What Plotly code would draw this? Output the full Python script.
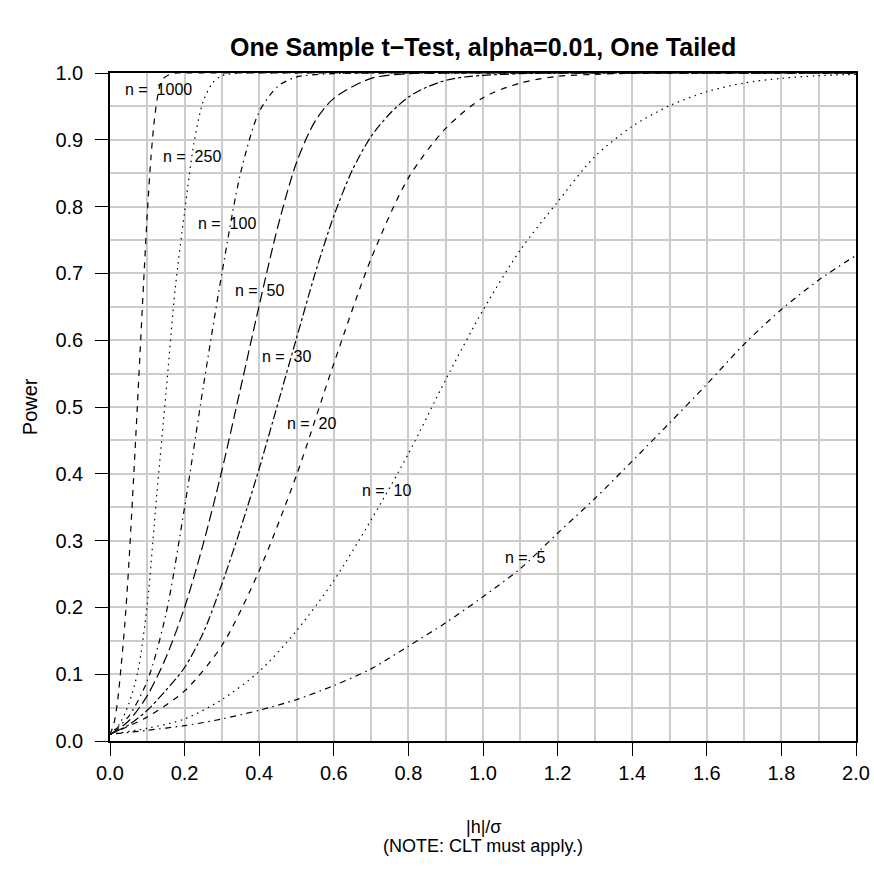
import plotly.graph_objects as go

# ---- data ----
sample_sizes = [1000, 250, 100, 50, 30, 20, 10, 5]

x_n1000 = [0, 0.01, 0.02, 0.03, 0.04, 0.05, 0.06, 0.07, 0.08, 0.09, 0.10, 0.11, 0.12,
           0.13, 0.14, 0.16, 0.18, 0.2, 0.4, 0.6, 0.8, 1.0, 1.2, 1.4, 1.6, 1.8, 2.0]
y_n1000 = [0.010, 0.025, 0.058, 0.113, 0.177, 0.260, 0.360, 0.465, 0.575, 0.685, 0.790,
           0.875, 0.935, 0.972, 0.990, 0.998, 1.0, 1.0, 1.0, 1.0, 1.0, 1.0, 1.0, 1.0, 1.0, 1.0, 1.0]

x_n250 = [0, 0.025, 0.05, 0.075, 0.1, 0.125, 0.15, 0.175, 0.2, 0.225, 0.25, 0.275, 0.3,
          0.35, 0.4, 0.6, 0.8, 1.0, 1.2, 1.4, 1.6, 1.8, 2.0]
y_n250 = [0.010, 0.025, 0.055, 0.105, 0.205, 0.367, 0.520, 0.678, 0.792, 0.895, 0.958,
          0.985, 0.996, 1.0, 1.0, 1.0, 1.0, 1.0, 1.0, 1.0, 1.0, 1.0, 1.0]

x_n100 = [0, 0.05, 0.1, 0.15, 0.2, 0.25, 0.3, 0.35, 0.4, 0.45, 0.5, 0.6, 0.7,
          0.8, 1.0, 1.2, 1.4, 1.6, 1.8, 2.0]
y_n100 = [0.010, 0.037, 0.090, 0.190, 0.350, 0.530, 0.700, 0.850, 0.942, 0.980, 0.994,
          0.999, 1.0, 1.0, 1.0, 1.0, 1.0, 1.0, 1.0, 1.0]

x_n50 = [0, 0.05, 0.1, 0.15, 0.2, 0.25, 0.3, 0.35, 0.4, 0.45, 0.5, 0.55, 0.6, 0.7,
         0.8, 0.9, 1.0, 1.2, 1.4, 1.6, 1.8, 2.0]
y_n50 = [0.010, 0.030, 0.068, 0.125, 0.200, 0.295, 0.405, 0.528, 0.652, 0.770, 0.866,
         0.928, 0.962, 0.992, 0.999, 1.0, 1.0, 1.0, 1.0, 1.0, 1.0, 1.0]

x_n30 = [0, 0.05, 0.1, 0.15, 0.2, 0.25, 0.3, 0.35, 0.4, 0.45, 0.5, 0.55, 0.6, 0.65,
         0.7, 0.75, 0.8, 0.85, 0.9, 0.95, 1.0, 1.1, 1.2, 1.4, 1.6, 1.8, 2.0]
y_n30 = [0.010, 0.024, 0.046, 0.076, 0.110, 0.162, 0.235, 0.318, 0.408, 0.505, 0.603,
         0.700, 0.786, 0.855, 0.905, 0.939, 0.964, 0.979, 0.989, 0.994, 0.9965, 0.999,
         1.0, 1.0, 1.0, 1.0, 1.0]

x_n20 = [0, 0.1, 0.2, 0.3, 0.4, 0.5, 0.6, 0.7, 0.8, 0.9, 1.0, 1.1, 1.2, 1.3, 1.4,
         1.5, 1.6, 1.7, 1.8, 1.9, 2.0]
y_n20 = [0.010, 0.036, 0.075, 0.143, 0.255, 0.398, 0.565, 0.722, 0.843, 0.917, 0.963,
         0.985, 0.995, 0.998, 0.9995, 1.0, 1.0, 1.0, 1.0, 1.0, 1.0]

x_n10 = [0, 0.1, 0.2, 0.3, 0.4, 0.5, 0.6, 0.7, 0.8, 0.9, 1.0, 1.1, 1.2, 1.3, 1.4,
         1.5, 1.6, 1.7, 1.8, 1.9, 2.0]
y_n10 = [0.010, 0.019, 0.033, 0.062, 0.104, 0.165, 0.240, 0.331, 0.430, 0.541, 0.645,
         0.735, 0.807, 0.875, 0.920, 0.951, 0.972, 0.985, 0.992, 0.996, 0.998]

x_n5 = [0, 0.1, 0.2, 0.3, 0.4, 0.5, 0.6, 0.7, 0.8, 0.9, 1.0, 1.1, 1.2, 1.3, 1.4,
        1.5, 1.6, 1.7, 1.8, 1.9, 2.0]
y_n5 = [0.010, 0.016, 0.023, 0.033, 0.046, 0.062, 0.083, 0.108, 0.142, 0.177, 0.216,
        0.258, 0.311, 0.363, 0.419, 0.476, 0.534, 0.594, 0.646, 0.690, 0.727]

label_x = [0.131, 0.2185, 0.314, 0.400, 0.472, 0.541, 0.740, 1.113]
label_y = [0.975, 0.875, 0.775, 0.675, 0.575, 0.475, 0.375, 0.275]

x_ticks = [0.0, 0.2, 0.4, 0.6, 0.8, 1.0, 1.2, 1.4, 1.6, 1.8, 2.0]
y_ticks = [0.0, 0.1, 0.2, 0.3, 0.4, 0.5, 0.6, 0.7, 0.8, 0.9, 1.0]

series_x = [x_n1000, x_n250, x_n100, x_n50, x_n30, x_n20, x_n10, x_n5]
series_y = [y_n1000, y_n250, y_n100, y_n50, y_n30, y_n20, y_n10, y_n5]

# R line types 2..6 cycling
dashes = {
    "dashed": "6px,6px",
    "dotted": "1.5px,4.5px",
    "dotdash": "1.5px,4.5px,6px,4.5px",
    "longdash": "10.5px,4.5px",
    "twodash": "3px,3px,9px,3px",
}
styles = ["dashed", "dotted", "dotdash", "longdash", "twodash", "dashed", "dotted", "dotdash"]

FONT = "Liberation Sans, Arial, Helvetica, sans-serif"

fig = go.Figure()
for n, xs, ys, st in zip(sample_sizes, series_x, series_y, styles):
    fig.add_trace(go.Scatter(
        x=xs, y=ys, mode="lines", name=f"n = {n}",
        line=dict(color="black", width=1.2, dash=dashes[st], shape="spline", smoothing=0.8),
        showlegend=False,
    ))

for n, lx, ly in zip(sample_sizes, label_x, label_y):
    fig.add_annotation(x=lx, y=ly, xref="x", yref="y", text=f"n = \u00a0{n}",
                       showarrow=False, font=dict(family=FONT, size=16, color="black"),
                       xanchor="center", yanchor="middle")

fig.add_annotation(x=0.5, y=1.0385, xref="paper", yref="paper",
                   text="<b>One Sample t\u2212Test, alpha=0.01, One Tailed</b>",
                   showarrow=False, font=dict(family=FONT, size=25, color="black"),
                   xanchor="center", yanchor="middle")
fig.add_annotation(x=0.5, y=-0.129, xref="paper", yref="paper", text="|h|/\u03c3",
                   showarrow=False, font=dict(family=FONT, size=18, color="black"),
                   xanchor="center", yanchor="middle")
fig.add_annotation(x=0.5, y=-0.157, xref="paper", yref="paper", text="(NOTE: CLT must apply.)",
                   showarrow=False, font=dict(family=FONT, size=18, color="black"),
                   xanchor="center", yanchor="middle")
fig.add_annotation(x=-0.107, y=0.5, xref="paper", yref="paper", text="Power", textangle=-90,
                   showarrow=False, font=dict(family=FONT, size=20, color="black"),
                   xanchor="center", yanchor="middle")

grid = dict(showgrid=True, gridcolor="#cccccc", gridwidth=1.5)
fig.update_xaxes(range=[0, 2], tickmode="array", tickvals=x_ticks,
                 ticktext=[f"{v:.1f}" for v in x_ticks], automargin=False,
                 ticks="outside", ticklen=13, tickwidth=1.2, tickcolor="black",
                 showline=True, linecolor="black", linewidth=1.5, mirror=True,
                 zeroline=False, tickfont=dict(family=FONT, size=20, color="black"),
                 minor=dict(dtick=0.1, tick0=0, ticks="", **grid), **grid)
fig.update_yaxes(range=[0, 1], tickmode="array", tickvals=y_ticks,
                 ticktext=[f"{v:.1f}" for v in y_ticks], automargin=False,
                 ticks="outside", ticklen=13, tickwidth=1.2, tickcolor="black",
                 showline=True, linecolor="black", linewidth=1.5, mirror=True,
                 zeroline=False, tickfont=dict(family=FONT, size=20, color="black"),
                 ticklabelstandoff=8,
                 minor=dict(dtick=0.05, tick0=0, ticks="", **grid), **grid)

fig.update_layout(width=874, height=875, autosize=False,
                  margin=dict(l=110, r=18, t=73, b=134),
                  paper_bgcolor="white", plot_bgcolor="white",
                  font=dict(family=FONT, color="black"))

# remove the default page margin so the figure sits at the window origin
fig.write_html("out.html", config={"displayModeBar": False},
               post_script="document.body.style.margin='0';document.body.style.overflow='hidden';")
